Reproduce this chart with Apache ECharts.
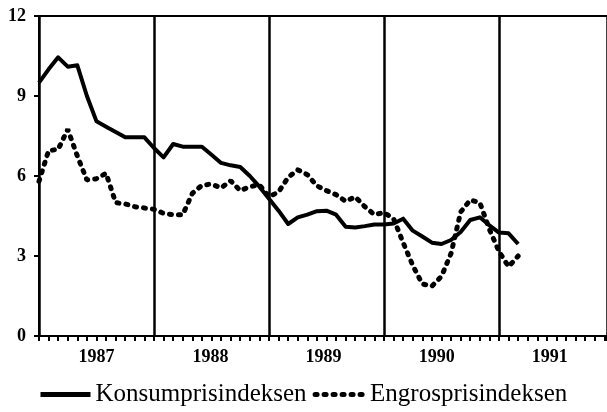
<!DOCTYPE html>
<html>
<head>
<meta charset="utf-8">
<title>Konsumprisindeksen og Engrosprisindeksen</title>
<script src="https://cdn.jsdelivr.net/npm/echarts@6/dist/echarts.min.js"></script>
<style>
	html,body{margin:0;padding:0;background:#fff;}
	#main{width:607px;height:412px;}
</style>
</head>
<body>
<div id="main"></div>
<script>
// 月度数据, 1987年1月起 (x = 月份序号)
var konsum = [9.5, 10.0, 10.45, 10.1, 10.15, 9.0, 8.05, 7.85, 7.65, 7.45, 7.45, 7.45,
	7.05, 6.7, 7.2, 7.1, 7.1, 7.1, 6.8, 6.49, 6.4, 6.34, 6.0, 5.6,
	5.15, 4.7, 4.2, 4.45, 4.55, 4.68, 4.7, 4.55, 4.1, 4.07, 4.12, 4.18,
	4.18, 4.22, 4.4, 3.95, 3.73, 3.5, 3.45, 3.6, 3.9, 4.35, 4.45, 4.15,
	3.88, 3.85, 3.45];
var engros = [5.8, 6.95, 7.0, 7.75, 6.75, 5.85, 5.9, 6.1, 5.0, 4.95, 4.85, 4.8,
	4.75, 4.6, 4.55, 4.55, 5.35, 5.65, 5.7, 5.55, 5.82, 5.45, 5.6, 5.67,
	5.22, 5.4, 5.95, 6.23, 6.05, 5.63, 5.45, 5.3, 5.05, 5.22, 4.85, 4.55,
	4.63, 4.4, 3.5, 2.65, 1.95, 1.87, 2.24, 3.1, 4.65, 5.1, 5.0, 4.0,
	3.17, 2.6, 3.0];
var years = ['1987', '1988', '1989', '1990', '1991'];
var yearLabelPos = [6, 17.9, 29.7, 41.5, 53.3];   // 年份标签位置(月)
var yTicks = [0, 3, 6, 9, 12];

var serif = 'Liberation Serif';
var monthMax = 59.27;   // 右边被裁掉的位置

function toPairs(arr){
	var out = [];
	arr.forEach(function(v, i){ out.push([i, v]); });
	return out;
}

var myChart = echarts.init(document.getElementById('main'));
myChart.setOption({
	animation: false,
	grid: {left: 39, top: 16, width: 568, height: 320},
	legend: {
		left: 33,
		top: 377,
		itemWidth: 50,
		itemHeight: 14,
		itemGap: 6,
		itemStyle: {opacity: 0},
		textStyle: {fontFamily: serif, fontSize: 25, color: '#000'},
		data: [
			{name: 'Konsumprisindeksen', lineStyle: {width: 5}},
			{name: 'Engrosprisindeksen', lineStyle: {width: 5}}
		]
	},
	xAxis: [{
		type: 'value',
		min: 0,
		max: monthMax,
		interval: 1,
		position: 'bottom',
		axisLine: {lineStyle: {color: '#000', width: 2}},
		axisTick: {show: true, length: 5, lineStyle: {color: '#000', width: 2}},
		axisLabel: {
			customValues: yearLabelPos,
			margin: 12,
			fontFamily: serif,
			fontSize: 18,
			fontWeight: 'bold',
			color: '#000',
			formatter: function(v){
				var idx = yearLabelPos.indexOf(v);
				return idx >= 0 ? years[idx] : '';
			}
		},
		splitLine: {show: false}
	}, {
		// 年份分隔线 + 上边框
		type: 'value',
		min: 0,
		max: monthMax,
		interval: 12,
		position: 'top',
		axisLine: {show: true, lineStyle: {color: '#000', width: 2}},
		axisTick: {show: false},
		axisLabel: {show: false},
		splitLine: {show: true, lineStyle: {color: '#000', width: 2.5}}
	}],
	yAxis: {
		type: 'value',
		min: yTicks[0],
		max: yTicks[yTicks.length - 1],
		interval: 3,
		offset: 4,
		axisLine: {show: true, lineStyle: {color: '#000', width: 2}},
		axisTick: {show: true, length: 5, lineStyle: {color: '#000', width: 2}},
		axisLabel: {margin: 9, fontFamily: serif, fontSize: 18, fontWeight: 'bold', color: '#000'},
		splitLine: {show: false}
	},
	series: [{
		name: 'Konsumprisindeksen',
		type: 'line',
		xAxisIndex: 0,
		symbol: 'none',
		color: '#000',
		data: toPairs(konsum),
		lineStyle: {color: '#000', width: 4, join: 'round'}
	}, {
		name: 'Engrosprisindeksen',
		type: 'line',
		xAxisIndex: 0,
		symbol: 'none',
		color: '#000',
		data: toPairs(engros),
		lineStyle: {color: '#000', width: 5, type: [2, 7], cap: 'round'}
	}]
});
</script>
</body>
</html>
